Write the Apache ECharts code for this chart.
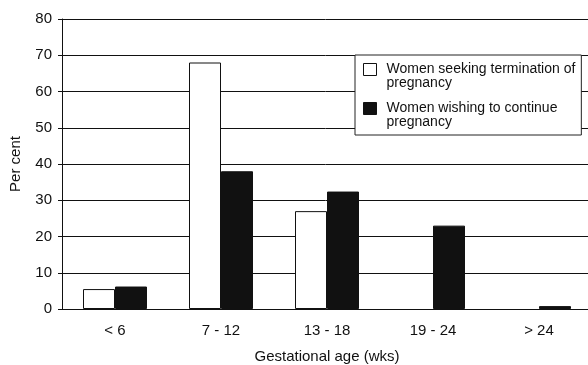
<!DOCTYPE html>
<html><head><meta charset="utf-8">
<script src="https://cdn.jsdelivr.net/npm/echarts@6/dist/echarts.min.js"></script>
<style>html,body{margin:0;padding:0;background:#fff}#c{width:588px;height:365px}</style>
</head><body><div id="c"></div>
<script>
const categories = ['< 6', '7 - 12', '13 - 18', '19 - 24', '> 24'];
const termination = [5.5, 68, 27, 0, 0];
const continuing = [6.2, 38, 32.4, 23, 0.8];
const yTicks = [0, 10, 20, 30, 40, 50, 60, 70, 80];
const seriesNames = ['Women seeking termination of\npregnancy', 'Women wishing to continue\npregnancy'];

// zero-height bars are not drawn in the original
const asBars = arr => arr.map(v => (v === 0 ? '-' : v));
// square icon aligned with the first text line of a two-line legend entry
const legendIcon = 'path://M0,1L13,1L13,13L0,13Z M0,0 M13,28';

const chart = echarts.init(document.getElementById('c'), null, {renderer: 'canvas'});
const font = 'Liberation Sans';
chart.setOption({
  animation: false,
  backgroundColor: '#fff',
  textStyle: {fontFamily: font, color: '#111'},
  grid: {left: 62, top: 19, width: 530, height: 290, containLabel: false, outerBoundsMode: 'none'},
  legend: {
    orient: 'vertical', left: 355, top: 55, width: 228,
    backgroundColor: '#fff', borderColor: '#222', borderWidth: 1,
    padding: [7, 6, 5, 8], itemGap: 10, itemWidth: 13, itemHeight: 28,
    icon: legendIcon, symbolKeepAspect: false,
    textStyle: {fontFamily: font, fontSize: 14, color: '#111', lineHeight: 14, padding: [0, 0, 0, 5]},
    data: [
      {name: seriesNames[0], itemStyle: {color: '#fff', borderColor: '#111', borderWidth: 1}},
      {name: seriesNames[1], itemStyle: {color: '#111', borderColor: '#111', borderWidth: 1}}
    ]
  },
  xAxis: {
    type: 'category', data: categories,
    axisLine: {show: true, lineStyle: {color: '#111', width: 1}},
    axisTick: {show: false},
    axisLabel: {fontFamily: font, fontSize: 15, color: '#111', margin: 14},
    name: 'Gestational age (wks)', nameLocation: 'middle', nameGap: 40,
    nameTextStyle: {fontFamily: font, fontSize: 15, color: '#111'}
  },
  yAxis: {
    type: 'value', min: 0, max: 80, interval: 10,
    axisLine: {show: true, lineStyle: {color: '#111', width: 1}},
    axisTick: {show: true, length: 4, lineStyle: {color: '#111'}},
    axisLabel: {fontFamily: font, fontSize: 15, color: '#111', margin: 10,
      formatter: v => yTicks.includes(v) ? String(v) : ''},
    splitLine: {show: true, lineStyle: {color: '#111', width: 1}},
    name: 'Per cent', nameLocation: 'middle', nameGap: 39, nameRotate: 90,
    nameTextStyle: {fontFamily: font, fontSize: 15, color: '#111'}
  },
  series: [
    {name: seriesNames[0], type: 'bar', data: asBars(termination), barWidth: 32, barGap: '0%',
      itemStyle: {color: '#fff', borderColor: '#111', borderWidth: 1}},
    {name: seriesNames[1], type: 'bar', data: asBars(continuing), barWidth: 32, barGap: '0%',
      itemStyle: {color: '#111', borderColor: '#111', borderWidth: 1}}
  ]
});
</script></body></html>
